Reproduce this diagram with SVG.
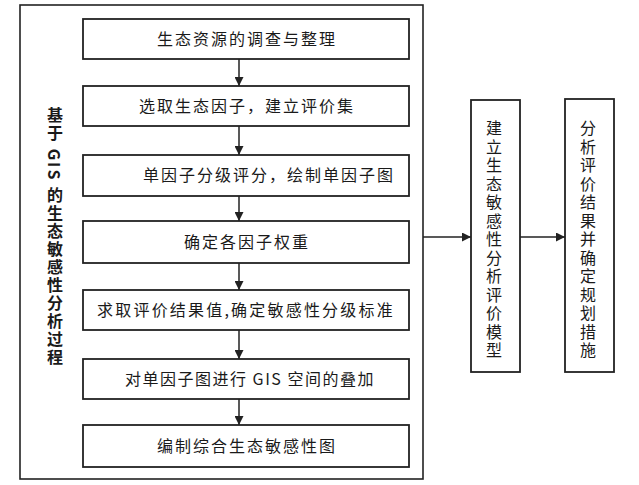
<svg xmlns="http://www.w3.org/2000/svg" width="639" height="485" viewBox="0 0 639 485">
<defs>
<style>
.box{fill:#fff;stroke:#222;stroke-width:1.8}
.frame{fill:none;stroke:#222;stroke-width:1.6}
.t{font-family:"Noto Sans CJK SC","Noto Sans CJK JP",sans-serif;font-size:16px;fill:#1a1a1a;letter-spacing:2px}
.tc{text-anchor:middle}
.v{writing-mode:vertical-rl;text-orientation:mixed;letter-spacing:2.5px}
.b{font-weight:bold;letter-spacing:2px}
.ln{stroke:#222;stroke-width:1.5;fill:none}
</style>
<marker id="ah" viewBox="0 0 10 10" refX="10" refY="5" markerWidth="9" markerHeight="9" markerUnits="userSpaceOnUse" orient="auto">
<path d="M0,0 L10,5 L0,10 Z" fill="#222"/>
</marker>
</defs>
<rect width="639" height="485" fill="#fff"/>
<g id="frame">
<rect class="frame" x="20" y="5" width="403" height="474"/>
<text class="t v b" x="55" y="107">基于 GIS 的生态敏感性分析过程</text>
</g>
<g id="n1"><rect class="box" x="83" y="19" width="326" height="40"/><text class="t tc" x="247" y="45">生态资源的调查与整理</text></g>
<g id="n2"><rect class="box" x="83" y="86" width="326" height="40"/><text class="t tc" x="247" y="112">选取生态因子，建立评价集</text></g>
<g id="n3"><rect class="box" x="83" y="155" width="326" height="41"/><text class="t" x="143" y="181">单因子分级评分，绘制单因子图</text></g>
<g id="n4"><rect class="box" x="83" y="221" width="326" height="42"/><text class="t tc" x="247" y="248">确定各因子权重</text></g>
<g id="n5"><rect class="box" x="83" y="290" width="326" height="40"/><text class="t tc" x="246" y="316" style="letter-spacing:2.2px">求取评价结果值,确定敏感性分级标准</text></g>
<g id="n6"><rect class="box" x="83" y="359" width="326" height="40"/><text class="t tc" x="250" y="385" style="letter-spacing:1.5px">对单因子图进行 GIS 空间的叠加</text></g>
<g id="n7"><rect class="box" x="83" y="425" width="326" height="42"/><text class="t tc" x="247" y="452">编制综合生态敏感性图</text></g>
<g id="nA"><rect class="box" x="471" y="100" width="49" height="272"/><text class="t v" x="494" y="120">建立生态敏感性分析评价模型</text></g>
<g id="nB"><rect class="box" x="565" y="99" width="49" height="273"/><text class="t v" x="588" y="120">分析评价结果并确定规划措施</text></g>
<g id="connectors">
<line class="ln" x1="239" y1="59" x2="239" y2="86" marker-end="url(#ah)"/>
<line class="ln" x1="239" y1="126" x2="239" y2="155" marker-end="url(#ah)"/>
<line class="ln" x1="239" y1="196" x2="239" y2="221" marker-end="url(#ah)"/>
<line class="ln" x1="239" y1="263" x2="239" y2="290" marker-end="url(#ah)"/>
<line class="ln" x1="239" y1="330" x2="239" y2="359" marker-end="url(#ah)"/>
<line class="ln" x1="239" y1="399" x2="239" y2="425" marker-end="url(#ah)"/>
<line class="ln" x1="423" y1="237" x2="471" y2="237" marker-end="url(#ah)"/>
<line class="ln" x1="520" y1="237" x2="565" y2="237" marker-end="url(#ah)"/>
</g>
</svg>
